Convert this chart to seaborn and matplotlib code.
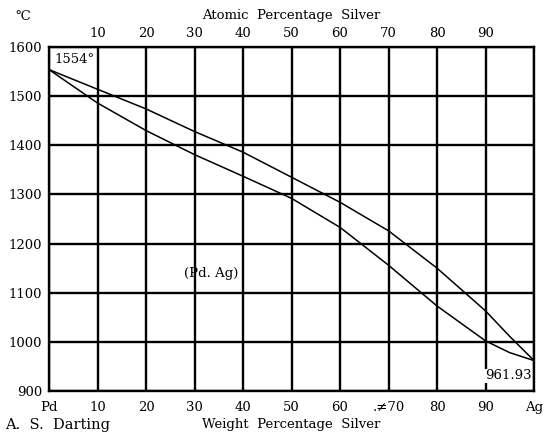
import numpy as np
import matplotlib
matplotlib.use('Agg')
import matplotlib.pyplot as plt
import pandas as pd
import seaborn as sns

# weight percentage silver
wt_pct = [0, 10, 20, 30, 40, 50, 60, 70, 80, 90, 95, 100]
# liquidus (upper curve) and solidus (lower curve), deg C
liquidus = [1554, 1514, 1474, 1428, 1386, 1335, 1284, 1226, 1150, 1063, 1011, 961.93]
solidus = [1554, 1486, 1430, 1381, 1337, 1292, 1233, 1156, 1073, 1002, 978, 961.93]

bottom_ticks = [0, 10, 20, 30, 40, 50, 60, 70, 80, 90, 100]
bottom_labels = ['Pd', '10', '20', '30', '40', '50', '60', '.≠70', '80', '90', 'Ag']
top_ticks = [10, 20, 30, 40, 50, 60, 70, 80, 90]
y_ticks = [900, 1000, 1100, 1200, 1300, 1400, 1500, 1600]

df = pd.DataFrame({
    'wt': wt_pct * 2,
    'temp': liquidus + solidus,
    'curve': ['liquidus'] * len(wt_pct) + ['solidus'] * len(wt_pct),
})

sns.set_theme(style='white')
plt.rcParams['font.family'] = ['DejaVu Serif']
plt.rcParams['text.color'] = 'black'
plt.rcParams['axes.labelcolor'] = 'black'
plt.rcParams['xtick.color'] = 'black'
plt.rcParams['ytick.color'] = 'black'

fig = plt.figure(figsize=(5.49, 4.38), dpi=100)
ax = fig.add_axes([0.0893, 0.1073, 0.8834, 0.7854])

sns.lineplot(data=df, x='wt', y='temp', units='curve', estimator=None,
             color='black', linewidth=1.1, ax=ax, legend=False)

ax.set_xlim(0, 100)
ax.set_ylim(900, 1600)
ax.set_xticks(bottom_ticks)
ax.set_xticklabels(bottom_labels)
ax.set_yticks(y_ticks)
ax.grid(True, color='black', linewidth=1.7)
for s in ax.spines.values():
    s.set_color('black')
    s.set_linewidth(1.7)
ax.tick_params(axis='both', length=0, labelsize=9.5, colors='black')
ax.tick_params(axis='x', pad=7)
ax.tick_params(axis='y', pad=5)
ax.set_xlabel('Weight  Percentage  Silver', fontsize=9.5, labelpad=3)
ax.set_ylabel('')

top = ax.secondary_xaxis('top', functions=(lambda v: v, lambda v: v))
top.set_xticks(top_ticks)
top.tick_params(length=0, labelsize=9.5, pad=5, colors='black')
top.set_xlabel('Atomic  Percentage  Silver', fontsize=9.5, labelpad=6)
top.spines['top'].set_visible(False)

fig.text(0.028, 0.955, '℃', fontsize=9.5)
fig.text(0.01, 0.02, 'A.  S.  Darting', fontsize=10.5)

ax.text(1.2, 1587, '1554°', fontsize=9.5, va='top', ha='left')
ax.text(33.5, 1140, '(Pd. Ag)', fontsize=9.5, va='center', ha='center')
ax.text(99.5, 931, '961.93', fontsize=9.5, va='center', ha='right',
        bbox=dict(facecolor='white', edgecolor='none', pad=0.5))

fig.savefig('out.png', dpi=100)
plt.close()
